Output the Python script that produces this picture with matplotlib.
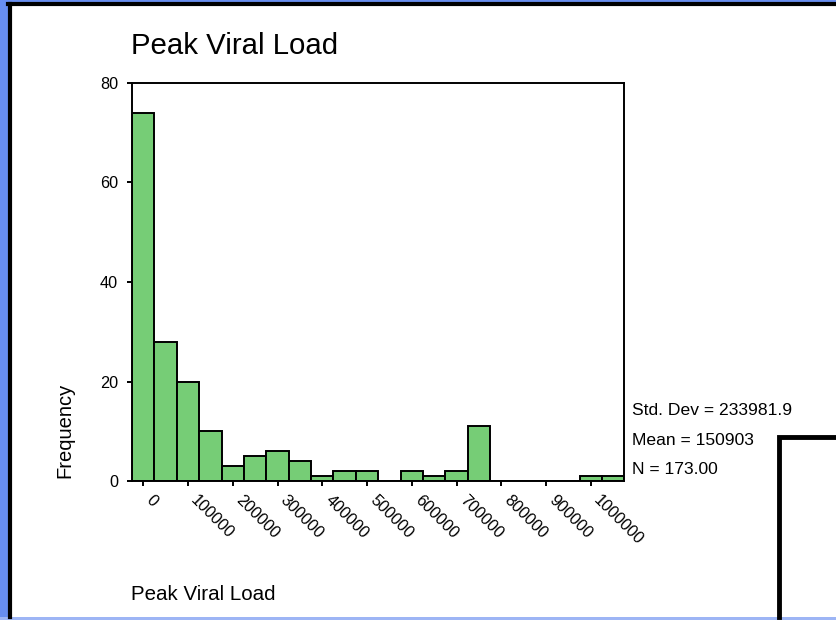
import matplotlib
matplotlib.use('Agg')
from matplotlib import pyplot as plt
from matplotlib.lines import Line2D
from matplotlib.patches import Rectangle

plt.rcParams['font.family'] = ['Liberation Sans', 'DejaVu Sans']

# histogram bins (centres, width 50000) and frequencies
bin_centers = [0, 50000, 100000, 150000, 200000, 250000, 300000, 350000,
               400000, 450000, 500000, 550000, 600000, 650000, 700000, 750000,
               800000, 850000, 900000, 950000, 1000000, 1050000]
counts = [74, 28, 20, 10, 3, 5, 6, 4, 1, 2, 2, 0, 2, 1, 2, 11,
          0, 0, 0, 0, 1, 1]
bin_width = 50000
x_ticks = [0, 100000, 200000, 300000, 400000, 500000, 600000, 700000,
           800000, 900000, 1000000]
y_ticks = [0, 20, 40, 60, 80]
stats = ['Std. Dev = 233981.9', 'Mean = 150903', 'N = 173.00']

W, H = 836, 620
fig = plt.figure(figsize=(W / 100, H / 100), dpi=100)
fig.patch.set_facecolor('#688EF0')

def fx(px):
    return px / W

def fy(py):
    return (H - py) / H

# slide frame: white page, black edge left/top, light strip at bottom
fig.add_artist(Rectangle((fx(8), fy(617)), fx(W - 8), (617 - 2) / H,
                         transform=fig.transFigure, facecolor='white',
                         edgecolor='none', zorder=0))
fig.add_artist(Rectangle((0, 0), 1, 3 / H, transform=fig.transFigure,
                         facecolor='#9DB5F5', edgecolor='none', zorder=0))
fig.add_artist(Line2D([fx(10), fx(10)], [fy(617), fy(4)], color='black',
                      lw=3, transform=fig.transFigure, zorder=1))
fig.add_artist(Line2D([fx(8), 1], [fy(4), fy(4)], color='black',
                      lw=3, transform=fig.transFigure, zorder=1))
# black box in lower right
fig.add_artist(Line2D([fx(779), fx(779), 1], [fy(617), fy(437), fy(437)],
                      color='black', lw=3.5, transform=fig.transFigure,
                      solid_joinstyle='miter', zorder=1))

ax = fig.add_axes([fx(132), fy(481), fx(624.5 - 132), (481 - 83) / H])
ax.set_facecolor('white')
ax.bar(bin_centers, counts, width=bin_width, color='#76CD76',
       edgecolor='black', linewidth=1.4, zorder=2)
ax.set_xlim(-25000, 1075000)
ax.set_ylim(0, 80)
ax.set_yticks(y_ticks)
ax.set_xticks(x_ticks)
ax.set_xticklabels([str(t) for t in x_ticks], rotation=-45,
                   ha='left', va='top', fontsize=11.7)
ax.tick_params(axis='y', labelsize=11.7, length=3.6, width=1.4, pad=6.5,
               direction='out')
ax.tick_params(axis='x', length=3.6, width=1.4, pad=5, direction='out')
ax.tick_params(top=False, right=False)
for s in ax.spines.values():
    s.set_linewidth(1.4)
    s.set_zorder(3)

fig.text(fx(131), fy(54), 'Peak Viral Load', fontsize=21.2,
         ha='left', va='baseline')
fig.text(fx(131), fy(600.5), 'Peak Viral Load', fontsize=14.8,
         ha='left', va='baseline')
fig.text(fx(65), fy(478), 'Frequency', fontsize=14.5, rotation=90,
         ha='center', va='bottom')
for i, line in enumerate(stats):
    fig.text(fx(632), fy(415.3 + i * 29.3), line, fontsize=12.6,
             ha='left', va='baseline')

fig.savefig('out.png', dpi=100, facecolor=fig.get_facecolor())
